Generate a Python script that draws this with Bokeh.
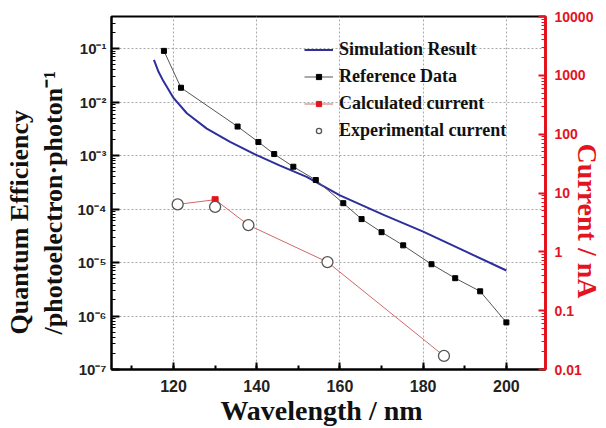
import math
from bokeh.plotting import figure
from bokeh.models import (Range1d, LogScale, LogAxis, LogTicker, SingleIntervalTicker,
                          CustomJSTickFormatter, Legend, LegendItem)
from bokeh.embed import file_html
from bokeh.resources import INLINE

# ---- data ----
sim_wl = [115.3, 116.4, 117.6, 120.0, 123.2, 128.0, 133.6, 140.0, 145.6, 152.0, 160.0, 170.5, 180.0, 190.3, 200.0]
sim_qe = [0.062, 0.037, 0.0245, 0.012, 0.0062, 0.0032, 0.0018, 0.00102, 0.00065, 0.0004, 0.00018, 7.8e-5, 3.8e-5, 1.6e-5, 7.1e-6]

ref_wl = [117.7, 121.8, 135.4, 140.4, 144.2, 148.8, 154.2, 160.8, 165.2, 170.0, 175.2, 182.0, 187.7, 193.7, 200.0]
ref_qe = [0.091, 0.0186, 0.0035, 0.0018, 0.00107, 0.00062, 0.00035, 0.000129, 6.5e-5, 3.7e-5, 2.1e-5, 9.3e-6, 5.1e-6, 2.9e-6, 7.6e-7]

cur_wl = [121, 130, 138, 157, 185]
calc_cur = [6.4, 7.7, 2.85, 0.67, 0.017]
exp_cur = [6.4, 5.8, 2.85, 0.67, 0.017]

qe_ticks = [1e-7, 1e-6, 1e-5, 1e-4, 1e-3, 1e-2, 1e-1]
qe_tick_labels = ["10⁻⁷", "10⁻⁶", "10⁻⁵", "10⁻⁴", "10⁻³", "10⁻²", "10⁻¹"]
cur_ticks = [0.01, 0.1, 1, 10, 100, 1000, 10000]
cur_tick_labels = ["0.01", "0.1", "1", "10", "100", "1000", "10000"]

legend_labels = ["Simulation Result", "Reference Data", "Calculated current", "Experimental current"]
NB = "\u00a0"
x_title = "Wavelength / nm" + NB * 2
y_title = "Quantum Efficiency" + NB * 9 + "\n/photoelectron·photon⁻¹" + NB * 3
y2_title = NB * 8 + "Current / nA"

RED = "#e3141e"
SERIF = "Liberation Serif"
SANS = "Liberation Sans"

p = figure(width=606, height=428, output_backend="svg", toolbar_location=None,
           y_axis_type="log", x_range=Range1d(105.1, 209.4), y_range=Range1d(1e-7, 0.4),
           min_border_left=111, min_border_right=61, min_border_top=16, min_border_bottom=59)
p.extra_y_ranges = {"cur": Range1d(0.01, 10000)}
p.extra_y_scales = {"cur": LogScale()}
p.background_fill_color = "white"
p.border_fill_color = "white"
p.outline_line_color = "black"
p.outline_line_width = 2

# grids
for g in (p.xgrid[0], p.ygrid[0]):
    g.grid_line_color = "#a8a8a8"
    g.grid_line_dash = "2 2"
    g.grid_line_width = 1

fmt_code = """
let best = 0; let d = Infinity;
for (let i = 0; i < vals.length; i++) {
  const dd = Math.abs(Math.log10(vals[i]) - Math.log10(tick));
  if (dd < d) { d = dd; best = i; }
}
return d < 1e-6 ? names[best] : "";
"""

# bottom axis
xa = p.below[0]
xa.ticker = SingleIntervalTicker(interval=20, num_minor_ticks=2)
xa.axis_line_width = 2
xa.axis_line_color = "black"
xa.major_tick_in = 7
xa.major_tick_out = 0
xa.minor_tick_in = 4
xa.minor_tick_out = 0
xa.major_tick_line_width = 2
xa.minor_tick_line_width = 2
xa.major_label_text_font = SANS
xa.major_label_text_font_style = "bold"
xa.major_label_text_font_size = "16px"
xa.major_label_text_color = "#222222"
xa.major_label_text_line_height = 1.0
xa.major_label_standoff = 10
xa.axis_label = x_title
xa.axis_label_text_font = SERIF
xa.axis_label_text_font_style = "bold"
xa.axis_label_text_font_size = "28px"
xa.axis_label_text_color = "#111111"
xa.axis_label_text_line_height = 1.0
xa.axis_label_standoff = 0

# left axis
ya = p.left[0]
ya.ticker = LogTicker(num_minor_ticks=10)
ya.formatter = CustomJSTickFormatter(args=dict(vals=qe_ticks, names=qe_tick_labels), code=fmt_code)
ya.axis_line_width = 2
ya.axis_line_color = "black"
ya.major_tick_in = 8
ya.major_tick_out = 0
ya.minor_tick_in = 4
ya.minor_tick_out = 0
ya.major_tick_line_width = 2
ya.minor_tick_line_width = 1
ya.major_label_text_font = SANS
ya.major_label_text_font_style = "bold"
ya.major_label_text_font_size = "15px"
ya.major_label_text_color = "#222222"
ya.major_label_standoff = 5
ya.axis_label = y_title
ya.axis_label_text_font = SERIF
ya.axis_label_text_font_style = "bold"
ya.axis_label_text_font_size = "26px"
ya.axis_label_text_color = "#111111"
ya.axis_label_standoff = 6

# right axis
ra = LogAxis(y_range_name="cur", ticker=LogTicker(num_minor_ticks=10),
             formatter=CustomJSTickFormatter(args=dict(vals=cur_ticks, names=cur_tick_labels), code=fmt_code))
ra.axis_line_width = 3
ra.axis_line_color = RED
ra.major_tick_in = 7
ra.major_tick_out = 0
ra.minor_tick_in = 4
ra.minor_tick_out = 0
ra.major_tick_line_color = RED
ra.minor_tick_line_color = RED
ra.major_tick_line_width = 2
ra.minor_tick_line_width = 1
ra.major_label_text_font = SANS
ra.major_label_text_font_style = "bold"
ra.major_label_text_font_size = "14px"
ra.major_label_text_color = RED
ra.major_label_standoff = 9
ra.axis_label = y2_title
ra.axis_label_text_font = SERIF
ra.axis_label_text_font_style = "bold"
ra.axis_label_text_font_size = "28px"
ra.axis_label_text_color = RED
ra.axis_label_text_line_height = 1.0
ra.axis_label_standoff = -24
p.add_layout(ra, "right")

# glyphs
sim = p.line(sim_wl, sim_qe, line_color="#2e2e9c", line_width=2)
ref_l = p.line(ref_wl, ref_qe, line_color="#555555", line_width=1)
ref_s = p.scatter(ref_wl, ref_qe, marker="square", size=5, fill_color="black", line_color="black")
calc_l = p.line(cur_wl, calc_cur, line_color="#d4666a", line_width=1, y_range_name="cur")
calc_s = p.scatter(cur_wl, calc_cur, marker="square", size=6, fill_color=RED, line_color=RED, y_range_name="cur")
exp_s = p.scatter(cur_wl, exp_cur, marker="circle", size=11, fill_color="white", line_color="#555555",
                  line_width=1.3, y_range_name="cur")

legend = Legend(items=[
    LegendItem(label=legend_labels[0], renderers=[sim]),
    LegendItem(label=legend_labels[1], renderers=[ref_l, ref_s]),
    LegendItem(label=legend_labels[2], renderers=[calc_l, calc_s]),
    LegendItem(label=legend_labels[3], renderers=[exp_s]),
], location=(193, 228))
legend.padding = 0
legend.margin = 0
legend.spacing = 6
legend.glyph_width = 29
legend.glyph_height = 13
legend.label_height = 20
legend.label_standoff = 6
legend.label_text_font = SERIF
legend.label_text_font_style = "bold"
legend.label_text_font_size = "18px"
legend.label_text_color = "#111111"
legend.background_fill_alpha = 0
legend.border_line_alpha = 0
p.add_layout(legend)

open("out.html", "w").write(file_html(p, INLINE))
